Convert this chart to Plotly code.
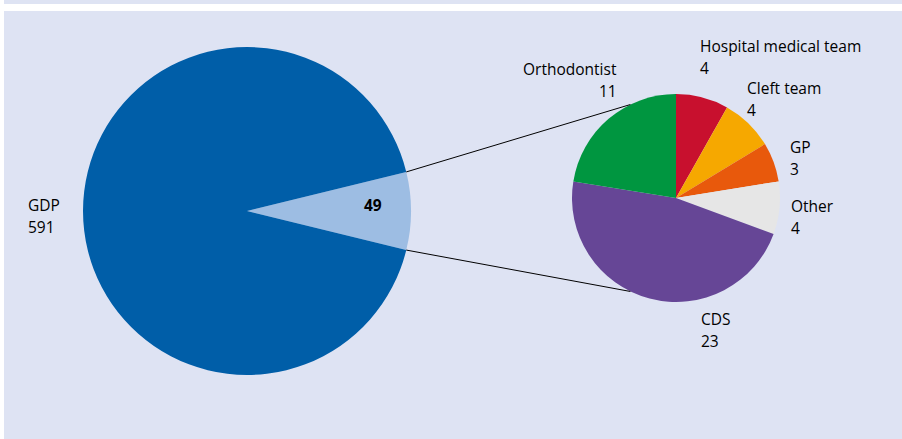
import math
import plotly.graph_objects as go

W, H = 902, 439

# Data
main_labels = ["Other referrers", "GDP"]
main_values = [49, 591]
sub_labels = ["Hospital medical team", "Cleft team", "GP", "Other", "CDS", "Orthodontist"]
sub_values = [4, 4, 3, 4, 23, 11]

main_colors = ["#9dbde3", "#005ea8"]
sub_colors = ["#c8102e", "#f6a800", "#e8590c", "#e6e6e6", "#664696", "#009640"]

BG = "#dee3f3"
FONT = "Open Sans"
FS = 15.5

# geometry in pixels
big_c = (247, 211)
big_r = 164
small_c = (676, 198)
small_r = 104


def dom(c, r):
    return dict(x=[(c[0] - r) / W, (c[0] + r) / W],
                y=[(H - c[1] - r) / H, (H - c[1] + r) / H])


total = sum(main_values)
half_deg = main_values[0] / total * 360 / 2

fig = go.Figure()
fig.add_trace(go.Pie(
    labels=main_labels, values=main_values, sort=False, direction="clockwise",
    rotation=90 - half_deg, marker=dict(colors=main_colors, line=dict(width=0)),
    textinfo="none", hoverinfo="label+value", domain=dom(big_c, big_r),
    showlegend=False,
))
fig.add_trace(go.Pie(
    labels=sub_labels, values=sub_values, sort=False, direction="clockwise",
    rotation=0, marker=dict(colors=sub_colors, line=dict(width=0)),
    textinfo="none", hoverinfo="label+value", domain=dom(small_c, small_r),
    showlegend=False,
))


def px(x, y):
    return x / W, 1 - y / H


shapes = []
# white margins
shapes.append(dict(type="rect", xref="paper", yref="paper", x0=0, x1=4 / W, y0=0, y1=1,
                   fillcolor="white", line=dict(width=0), layer="below"))
shapes.append(dict(type="rect", xref="paper", yref="paper", x0=0, x1=1, y0=1 - 11 / H, y1=1 - 4 / H,
                   fillcolor="white", line=dict(width=0), layer="below"))

# connector lines
a = math.radians(half_deg)
end_a = math.radians(116)
for s in (1, -1):
    x0 = big_c[0] + big_r * math.cos(a)
    y0 = big_c[1] - s * big_r * math.sin(a)
    x1 = small_c[0] + small_r * math.cos(end_a)
    y1 = small_c[1] - s * small_r * math.sin(end_a)
    X0, Y0 = px(x0, y0)
    X1, Y1 = px(x1, y1)
    shapes.append(dict(type="line", xref="paper", yref="paper", x0=X0, y0=Y0, x1=X1, y1=Y1,
                       line=dict(color="black", width=1)))

ann = []


def line(text, x, y, anchor="left", bold=False):
    X, Y = px(x, y + 1)
    ann.append(dict(text=("<b>%s</b>" % text) if bold else text, x=X, y=Y, xref="paper", yref="paper",
                    xanchor=anchor, yanchor="middle", showarrow=False, align=anchor,
                    font=dict(family=FONT, size=FS, color="#000000")))


def label(name, value, x, y, anchor="left"):
    line(name, x, y, anchor)
    line(str(value), x, y + 22, anchor)


label("GDP", main_values[1], 26, 204)
line(str(main_values[0]), 373, 204, anchor="center", bold=True)
label("Orthodontist", sub_values[5], 619, 68, anchor="right")
label("Hospital medical team", sub_values[0], 698, 45)
label("Cleft team", sub_values[1], 745, 87)
label("GP", sub_values[2], 788, 146)
label("Other", sub_values[3], 789, 205)
label("CDS", sub_values[4], 699, 318)

fig.update_layout(
    width=W, height=H, margin=dict(l=0, r=0, t=0, b=0),
    paper_bgcolor=BG, plot_bgcolor=BG,
    shapes=shapes, annotations=ann,
    font=dict(family=FONT),
)

fig.write_html(
    "out.html", config={"displayModeBar": False},
    post_script=("document.body.style.margin='0';document.body.style.overflow='hidden';"
                 "document.body.style.background='%s';"
                 "document.documentElement.style.background='%s';" % (BG, BG)),
)
